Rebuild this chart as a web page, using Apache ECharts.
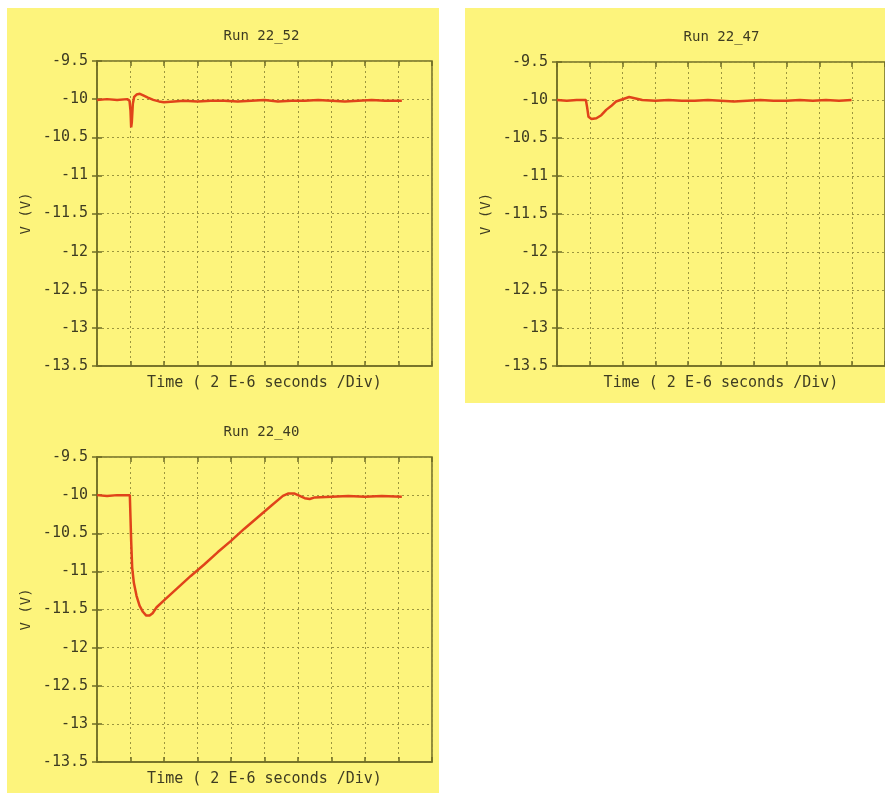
<!DOCTYPE html>
<html>
<head>
<meta charset="utf-8">
<script src="https://cdn.jsdelivr.net/npm/echarts@6/dist/echarts.min.js"></script>
<style>
html,body{margin:0;padding:0;background:#fff;}
#c{width:885px;height:794px;}
</style>
</head>
<body>
<div id="c"></div>
<script>
// ---- data (x in divisions of 2 E-6 s, y in volts) ----
const runTitles = ['Run 22_52', 'Run 22_47', 'Run 22_40'];
const xName = 'Time ( 2 E-6 seconds /Div)';
const yName = 'V (V)';
const yTicks = [-13.5, -13, -12.5, -12, -11.5, -11, -10.5, -10, -9.5];

const t1 = [0, 0.3, 0.6, 0.9, 0.97, 1.0, 1.02, 1.04, 1.07, 1.11, 1.18, 1.28, 1.38, 1.52, 1.68, 1.85, 2.0, 2.3, 2.6, 3.0, 3.4, 3.8, 4.2, 4.6, 5.0, 5.4, 5.8, 6.2, 6.6, 7.0, 7.4, 7.8, 8.2, 8.6, 9.1];
const v1 = [-10.01, -10.0, -10.01, -10.0, -10.02, -10.15, -10.37, -10.3, -10.06, -9.97, -9.94, -9.93, -9.95, -9.98, -10.01, -10.03, -10.04, -10.03, -10.02, -10.03, -10.02, -10.02, -10.03, -10.02, -10.01, -10.03, -10.02, -10.02, -10.01, -10.02, -10.03, -10.02, -10.01, -10.02, -10.02];

const t2 = [0, 0.3, 0.6, 0.88, 0.92, 0.96, 1.05, 1.2, 1.35, 1.5, 1.65, 1.8, 2.0, 2.2, 2.4, 2.6, 3.0, 3.4, 3.8, 4.2, 4.6, 5.0, 5.4, 5.8, 6.2, 6.6, 7.0, 7.4, 7.8, 8.2, 8.6, 8.98];
const v2 = [-10.0, -10.01, -10.0, -10.0, -10.1, -10.22, -10.25, -10.24, -10.2, -10.13, -10.08, -10.02, -9.99, -9.96, -9.98, -10.0, -10.01, -10.0, -10.01, -10.01, -10.0, -10.01, -10.02, -10.01, -10.0, -10.01, -10.01, -10.0, -10.01, -10.0, -10.01, -10.0];

const t3 = [0, 0.3, 0.6, 0.98, 1.0, 1.02, 1.05, 1.1, 1.18, 1.27, 1.37, 1.47, 1.57, 1.66, 1.78, 2.0, 2.4, 2.8, 3.2, 3.6, 4.0, 4.4, 4.8, 5.2, 5.55, 5.7, 5.9, 6.05, 6.2, 6.35, 6.5, 7.0, 7.5, 8.0, 8.5, 9.1];
const v3 = [-10.0, -10.01, -10.0, -10.0, -10.3, -10.6, -10.95, -11.15, -11.32, -11.45, -11.53, -11.58, -11.58, -11.55, -11.47, -11.38, -11.22, -11.06, -10.91, -10.75, -10.6, -10.44, -10.29, -10.14, -10.01, -9.98, -9.98, -10.01, -10.04, -10.05, -10.03, -10.02, -10.01, -10.02, -10.01, -10.02];

const runsT = [t1, t2, t3];
const runsV = [v1, v2, v3];

// ---- styles ----
const FONT = 'DejaVu Sans Mono';
const TXT = '#3e3c22';
const BOX = '#6f6c26';
const GRIDC = '#9c963e';
const LINEC = '#e0431a';
const YEL = '#fdf47c';

const grids = [
  {left: 97, top: 61, width: 335, height: 305},
  {left: 557, top: 62, width: 335, height: 304},
  {left: 97, top: 457, width: 335, height: 305}
];

const option = {
  backgroundColor: '#ffffff',
  animation: false,
  graphic: [
    {type: 'rect', z: -10, shape: {x: 7, y: 8, width: 432, height: 785}, style: {fill: YEL}},
    {type: 'rect', z: -10, shape: {x: 465, y: 8, width: 420, height: 395}, style: {fill: YEL}},
    ...grids.map((g, i) => ({
      type: 'text', z: 10,
      x: g.left + g.width / 2 - 3, y: g.top - 25,
      style: {text: runTitles[i], fill: TXT, font: '14px "' + FONT + '"', textAlign: 'center', textVerticalAlign: 'middle'}
    }))
  ],
  grid: grids.map(g => Object.assign({show: true, borderColor: BOX, borderWidth: 1.5, backgroundColor: 'transparent'}, g)),
  xAxis: [],
  yAxis: [],
  series: []
};

grids.forEach((g, i) => {
  option.xAxis.push({
    gridIndex: i, type: 'value', min: 0, max: 10, interval: 1,
    name: xName, nameLocation: 'middle', nameGap: 10,
    nameTextStyle: {color: TXT, fontFamily: FONT, fontSize: 15},
    axisLine: {show: true, onZero: false, lineStyle: {color: BOX, width: 1.5}},
    axisTick: {show: true, inside: true, length: 5, lineStyle: {color: BOX, width: 1.5}},
    axisLabel: {show: false},
    splitLine: {show: true, lineStyle: {color: GRIDC, type: [2, 3], width: 1}}
  });
  option.xAxis.push({
    gridIndex: i, type: 'value', min: 0, max: 10, interval: 1, position: 'top',
    axisLine: {show: false},
    axisTick: {show: true, inside: true, length: 5, lineStyle: {color: BOX, width: 1.5}},
    axisLabel: {show: false}, splitLine: {show: false}
  });
  option.yAxis.push({
    gridIndex: i, type: 'value', min: yTicks[0], max: yTicks[yTicks.length - 1], interval: 0.5,
    name: yName, nameLocation: 'middle', nameGap: 64,
    nameTextStyle: {color: TXT, fontFamily: FONT, fontSize: 14},
    axisLine: {show: true, onZero: false, lineStyle: {color: BOX, width: 1.5}},
    axisTick: {show: true, inside: true, length: 5, lineStyle: {color: BOX, width: 1.5}},
    axisLabel: {show: true, color: TXT, fontFamily: FONT, fontSize: 15, margin: 9,
      formatter: v => String(yTicks.find(t => Math.abs(t - v) < 1e-6) ?? v)},
    splitLine: {show: true, lineStyle: {color: GRIDC, type: [2, 3], width: 1}}
  });
  option.yAxis.push({
    gridIndex: i, type: 'value', min: yTicks[0], max: yTicks[yTicks.length - 1], interval: 0.5, position: 'right',
    axisLine: {show: false},
    axisTick: {show: true, inside: true, length: 5, lineStyle: {color: BOX, width: 1.5}},
    axisLabel: {show: false}, splitLine: {show: false}
  });
  option.series.push({
    type: 'line', xAxisIndex: i * 2, yAxisIndex: i * 2,
    showSymbol: false, symbol: 'none', smooth: false,
    lineStyle: {color: LINEC, width: 2.5},
    data: runsT[i].map((t, k) => [t, runsV[i][k]])
  });
});

const chart = echarts.init(document.getElementById('c'), null, {renderer: 'canvas'});
chart.setOption(option);
</script>
</body>
</html>
